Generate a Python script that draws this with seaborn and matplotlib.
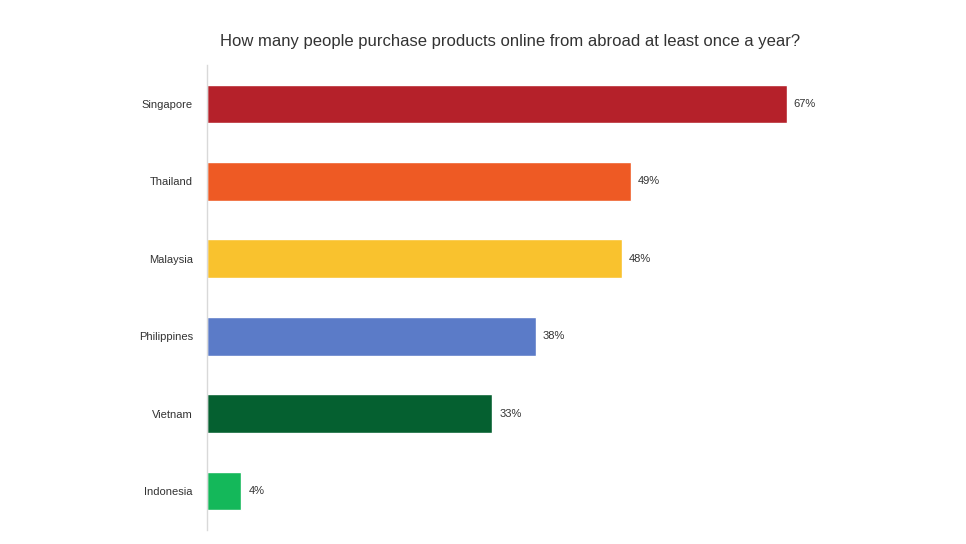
import matplotlib
matplotlib.use("Agg")
import matplotlib.pyplot as plt
import seaborn as sns
import pandas as pd

# ── data ─────────────────────────────────────────────────────────────────────
countries = ["Singapore", "Thailand", "Malaysia", "Philippines", "Vietnam", "Indonesia"]
shares = [67, 49, 48, 38, 33, 4]
colors = ["#B5212A", "#EE5A24", "#F9C22E", "#5B7BC8", "#056030", "#14B85A"]

df = pd.DataFrame({"country": countries, "share": shares})

sns.set_theme(style="white")
plt.rcParams["font.family"] = "Liberation Sans"

fig = plt.figure(figsize=(9.66, 5.44), dpi=100, facecolor="white")
ax = fig.add_axes([0.214, 0.026, 0.717, 0.854])

sns.barplot(data=df, x="share", y="country", hue="country", palette=colors,
            legend=False, width=0.5, ax=ax, saturation=1)

for i, v in enumerate(shares):
    ax.text(v + 0.8, i, f"{v}%", va="center", ha="left", fontsize=8, color="#333333")

ax.set_xlim(0, 80)
ax.set_ylim(5.5, -0.5)
ax.set_xlabel("")
ax.set_ylabel("")
ax.set_xticks([])
ax.tick_params(axis="y", length=0, labelsize=8, colors="#333333", pad=10)
for s in ["top", "right", "bottom"]:
    ax.spines[s].set_visible(False)
ax.spines["left"].set_color("#d9d9d9")
ax.spines["left"].set_linewidth(1)

fig.text(0.528, 0.923, "How many people purchase products online from abroad at least once a year?",
         ha="center", va="center", fontsize=12, color="#333333")

fig.savefig("out.png", dpi=100, facecolor="white")
